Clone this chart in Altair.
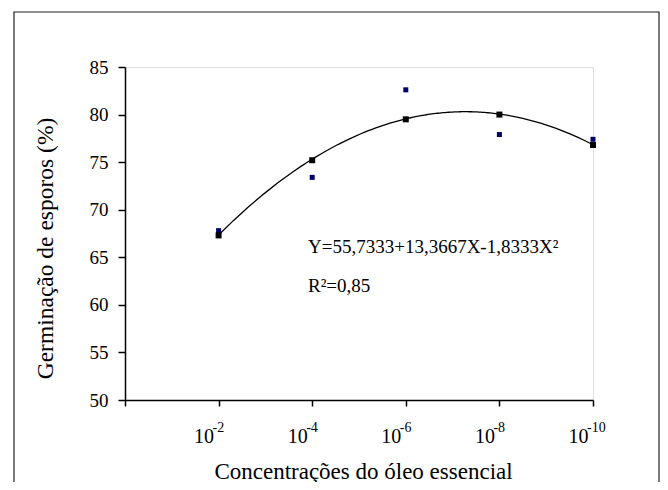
import altair as alt
import pandas as pd

# ---- data ----
positions = [1, 2, 3, 4, 5]
label_base = "10"
exponents = ["-2", "-4", "-6", "-8", "-10"]
observed = [67.8, 73.4, 82.6, 77.9, 77.4]
fitted = [67.3, 75.2, 79.5, 80.0, 76.8]
y_ticks = [50, 55, 60, 65, 70, 75, 80, 85]
equation_lines = ["Y=55,7333+13,3667X-1,8333X²", "R²=0,85"]

x_title = "Concentrações do óleo essencial"
y_title = "Germinação de esporos (%)"

FONT = "'Liberation Serif', 'Times New Roman', serif"

df = pd.DataFrame({"x": positions, "exp": exponents,
                   "obs": observed, "fit": fitted})

xscale = alt.Scale(domain=[0, 5], nice=False, zero=False)
yscale = alt.Scale(domain=[50, 85], nice=False, zero=False)

xaxis = alt.Axis(values=[0, 1, 2, 3, 4, 5],
                 labelExpr='datum.value >= 1 ? "%s" : ""' % label_base,
                 grid=False, domainColor="black", domainWidth=1.5,
                 tickColor="black", tickWidth=1.5, tickSize=6,
                 labelFont=FONT, labelFontSize=20, labelColor="black",
                 labelBaseline="alphabetic", labelPadding=36, labelOffset=-15,
                 labelFlush=False,
                 title=x_title, titleFont=FONT, titleFontSize=23,
                 titleFontWeight="normal", titleColor="black",
                 titleX=238, titleY=78, titleBaseline="alphabetic",
                 titleAlign="center")

yaxis = alt.Axis(values=y_ticks, grid=False, domainColor="black", domainWidth=1.5,
                 tickColor="black", tickWidth=1.5, tickSize=7,
                 labelFont=FONT, labelFontSize=19, labelColor="black",
                 labelPadding=10,
                 title=y_title, titleFont=FONT, titleFontSize=23.5,
                 titleFontWeight="normal", titleColor="black",
                 titleX=-80, titleY=181, titleAngle=270,
                 titleBaseline="middle", titleAlign="center")

base = alt.Chart(df)

curve = base.transform_regression(
    "x", "obs", method="poly", order=2, extent=[1, 5]
).mark_line(color="black", strokeWidth=1.3).encode(
    x=alt.X("x:Q", scale=xscale, axis=xaxis),
    y=alt.Y("obs:Q", scale=yscale, axis=yaxis),
)

obs_pts = base.mark_square(size=25, color="#000066", opacity=1).encode(
    x=alt.X("x:Q", scale=xscale, axis=xaxis),
    y=alt.Y("obs:Q", scale=yscale, axis=yaxis),
)

fit_pts = base.mark_square(size=36, color="black", opacity=1).encode(
    x=alt.X("x:Q", scale=xscale, axis=xaxis),
    y=alt.Y("fit:Q", scale=yscale, axis=yaxis),
)

exp_text = base.mark_text(
    align="left", baseline="alphabetic", font=FONT, fontSize=14, color="black",
    dx=-6
).encode(x=alt.X("x:Q", scale=xscale, axis=xaxis), y=alt.value(365), text="exp:N")

eq_df = pd.DataFrame({"t": [equation_lines[0]]})
r2_df = pd.DataFrame({"t": [equation_lines[1]]})

eq_text = alt.Chart(eq_df).mark_text(
    align="left", baseline="alphabetic", font=FONT, fontSize=19, color="black"
).encode(x=alt.value(183), y=alt.value(186), text="t:N")

r2_text = alt.Chart(r2_df).mark_text(
    align="left", baseline="alphabetic", font=FONT, fontSize=19, color="black"
).encode(x=alt.value(183), y=alt.value(225), text="t:N")

frame = alt.Chart(eq_df).mark_rect(
    filled=False, stroke="#222222", strokeWidth=1.2
).encode(x=alt.value(-111), x2=alt.value(534), y=alt.value(-55), y2=alt.value(440))

chart = alt.layer(frame, curve, obs_pts, fit_pts, exp_text, eq_text, r2_text).properties(
    width=468, height=333,
    autosize=alt.AutoSizeParams(type="none"),
    padding={"left": 117, "top": 59, "right": 67, "bottom": 82},
).configure_view(stroke=None).configure(
    background="white", font=FONT,
    style={"guide-label": {"font": FONT}, "guide-title": {"font": FONT}},
).configure_axis(labelFont=FONT, titleFont=FONT)

chart.save("out.html", embed_options={"renderer": "svg", "actions": False})
